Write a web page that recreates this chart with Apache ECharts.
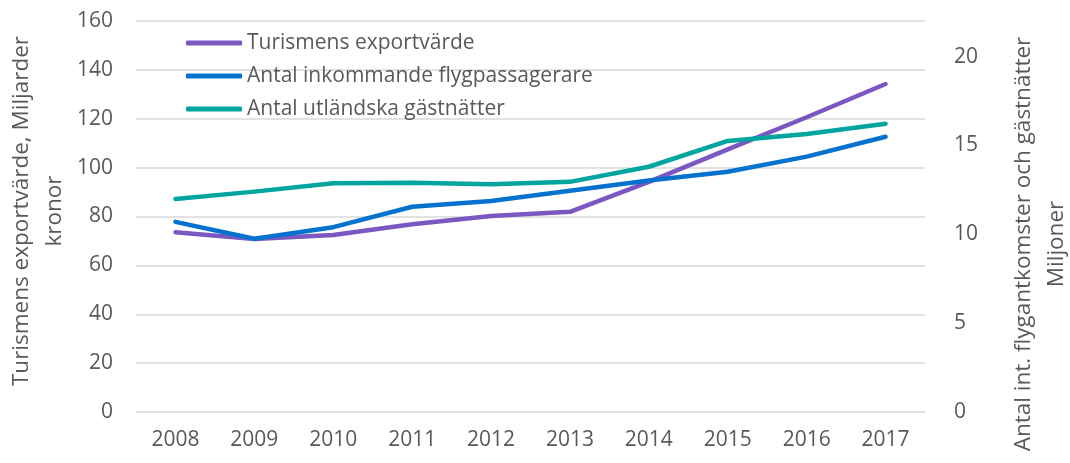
<!DOCTYPE html>
<html>
<head>
<meta charset="utf-8">
<script src="https://cdn.jsdelivr.net/npm/echarts@6/dist/echarts.min.js"></script>
<style>
  html, body { margin: 0; padding: 0; background: #fff; }
  #chart { width: 1070px; height: 463px; }
</style>
</head>
<body>
<div id="chart"></div>
<script>
const years = ["2008", "2009", "2010", "2011", "2012", "2013", "2014", "2015", "2016", "2017"];
// Miljarder kronor (left axis)
const exportValue = [73.6, 70.8, 72.4, 76.8, 80.2, 81.9, 94.2, 107.5, 120.6, 134.2];
// Miljoner (right axis)
const passengers = [10.7, 9.75, 10.4, 11.55, 11.87, 12.45, 13.02, 13.52, 14.37, 15.49];
const guestNights = [11.99, 12.4, 12.87, 12.9, 12.81, 12.95, 13.8, 15.25, 15.64, 16.22];

const textColor = "#595959";
const font = "Open Sans";

const chart = echarts.init(document.getElementById("chart"), null, { renderer: "canvas" });

const line = (name, data, color, yAxisIndex) => ({
  name,
  type: "line",
  data,
  yAxisIndex,
  symbol: "none",
  lineStyle: { color, width: 4.5, cap: "round", join: "round" },
  itemStyle: { color },
});

chart.setOption({
  animation: false,
  textStyle: { fontFamily: font },
  grid: { left: 136, right: 145, top: 21, bottom: 51 },
  legend: {
    orient: "vertical",
    left: 181,
    top: 27,
    icon: "roundRect",
    itemWidth: 56,
    itemHeight: 5,
    itemGap: 11,
    textStyle: { color: textColor, fontSize: 21, fontFamily: font, lineHeight: 22 },
    data: ["Turismens exportvärde", "Antal inkommande flygpassagerare", "Antal utländska gästnätter"],
  },
  xAxis: {
    type: "category",
    data: years,
    axisLine: { show: false },
    axisTick: { show: false },
    axisLabel: { color: textColor, fontSize: 21, margin: 18 },
  },
  yAxis: [
    {
      type: "value",
      min: 0,
      max: 160,
      interval: 20,
      axisLine: { show: false },
      axisTick: { show: false },
      axisLabel: { color: textColor, fontSize: 21, margin: 23 },
      splitLine: { lineStyle: { color: "#d9d9d9", width: 1.5 } },
    },
    {
      type: "value",
      min: 0,
      max: 22,
      interval: 5,
      position: "right",
      axisLine: { show: false },
      axisTick: { show: false },
      axisLabel: { color: textColor, fontSize: 21, margin: 29, showMaxLabel: false },
      splitLine: { show: false },
    },
  ],
  graphic: [
    {
      type: "text",
      x: 38,
      y: 211,
      rotation: Math.PI / 2,
      style: {
        text: "Turismens exportvärde, Miljarder\nkronor",
        fill: textColor,
        fontSize: 22.5,
        fontFamily: font,
        lineHeight: 33,
        align: "center",
        verticalAlign: "middle",
      },
    },
    {
      type: "text",
      x: 1040,
      y: 244,
      rotation: Math.PI / 2,
      style: {
        text: "Antal int. flygantkomster och gästnätter\nMiljoner",
        fill: textColor,
        fontSize: 22.5,
        fontFamily: font,
        lineHeight: 33,
        align: "center",
        verticalAlign: "middle",
      },
    },
  ],
  series: [
    line("Turismens exportvärde", exportValue, "#7b57c1", 0),
    line("Antal inkommande flygpassagerare", passengers, "#0572cd", 1),
    line("Antal utländska gästnätter", guestNights, "#00a59f", 1),
  ],
});
</script>
</body>
</html>
